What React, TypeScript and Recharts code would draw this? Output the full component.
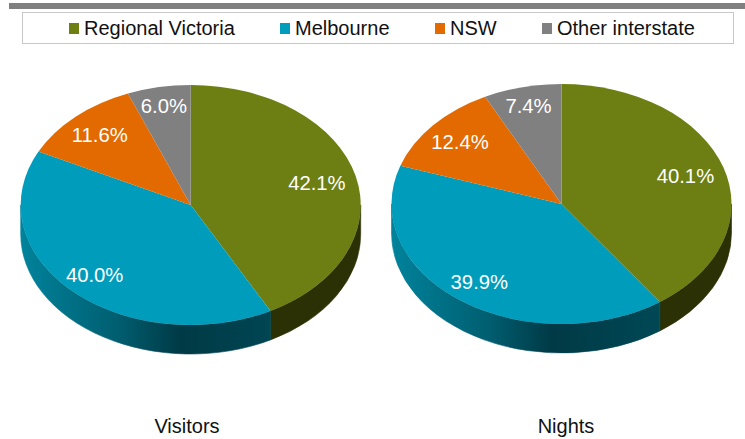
import { PieChart, Pie, Cell } from 'recharts';

const categories = ['Regional Victoria', 'Melbourne', 'NSW', 'Other interstate'];
const visitorShares = [42.1, 40.0, 11.6, 6.0];
const nightShares = [40.1, 39.9, 12.4, 7.4];
const colors = ['#6d7f12', '#009cbb', '#e26a00', '#808080'];
const wallColors = ['#2c3105', 'url(#WALL)', '#5a2a00', '#333333'];

const FONT = '"Liberation Sans", Arial, sans-serif';
const SQUASH = 120 / 170;
const DEPTH = 29;
const RAD = Math.PI / 180;
// how far out along the slice each percentage sits
const labelReach = [0.765, 0.81, 0.79, 0.84];

const toTable = (shares: number[]) => categories.map((name, i) => ({ name, value: shares[i] }));

const point = (cx: number, cy: number, r: number, deg: number) => ({
  x: cx + r * Math.cos(deg * RAD),
  y: cy - r * SQUASH * Math.sin(deg * RAD),
});

// flat pie is drawn as a tilted one: same angles, squashed radius, plus a side wall
const TiltedSlice = (props: any) => {
  const { cx, cy, outerRadius: r, startAngle, endAngle, fill, index, wallId } = props;
  const ry = r * SQUASH;
  const a = point(cx, cy, r, startAngle);
  const b = point(cx, cy, r, endAngle);
  const large = Math.abs(startAngle - endAngle) > 180 ? 1 : 0;
  const top = `M${cx},${cy} L${a.x},${a.y} A${r},${ry} 0 ${large} 1 ${b.x},${b.y} Z`;

  const from = Math.min(startAngle, 0);
  const to = Math.max(endAngle, -180);
  let wall = null;
  if (from > to) {
    const p = point(cx, cy, r, from);
    const q = point(cx, cy, r, to);
    const d = `M${p.x},${p.y} A${r},${ry} 0 0 1 ${q.x},${q.y} L${q.x},${q.y + DEPTH} A${r},${ry} 0 0 0 ${p.x},${p.y + DEPTH} Z`;
    const wallFill = wallColors[index].replace('WALL', wallId);
    // thin stroke closes the hairline between neighbouring walls
    wall = <path d={d} fill={wallFill} stroke={wallFill} strokeWidth={0.6} />;
  }
  return (
    <g>
      {wall}
      <path d={top} fill={fill} />
    </g>
  );
};

const SliceLabel = (props: any) => {
  const { cx, cy, outerRadius, midAngle, value, index } = props;
  const p = point(cx, cy, outerRadius * labelReach[index], midAngle);
  return (
    <text x={p.x} y={p.y} fill="#ffffff" fontSize={20.3} fontFamily={FONT} textAnchor="middle" dominantBaseline="central">
      {value.toFixed(1)}%
    </text>
  );
};

const WallGradient = ({ id, x1, x2 }: { id: string; x1: number; x2: number }) => (
  <linearGradient id={id} gradientUnits="userSpaceOnUse" x1={x1} y1="0" x2={x2} y2="0">
    <stop offset="0%" stopColor="#00839c" />
    <stop offset="28%" stopColor="#005f71" />
    <stop offset="47%" stopColor="#003a46" />
    <stop offset="100%" stopColor="#00515f" />
  </linearGradient>
);

const title: React.CSSProperties = {
  position: 'absolute',
  top: 414,
  width: 120,
  textAlign: 'center',
  fontFamily: FONT,
  fontSize: 20,
  lineHeight: '24px',
  color: '#111',
};

const legendX = [69, 280, 435, 542];

export default function App() {
  return (
    <div style={{ position: 'absolute', left: 0, top: 0, width: 745, height: 439, background: '#fff' }}>
      <div style={{ position: 'absolute', left: 9, top: 3, width: 736, height: 6, background: '#808080' }} />
      <div
        style={{
          position: 'absolute',
          left: 22,
          top: 12,
          width: 712,
          height: 32,
          boxSizing: 'border-box',
          border: '1px solid #c8c8c8',
        }}
      />
      {categories.map((name, i) => (
        <div
          key={name}
          style={{
            position: 'absolute',
            left: legendX[i],
            top: 16,
            height: 24,
            display: 'flex',
            alignItems: 'center',
            fontFamily: FONT,
            fontSize: 20,
            color: '#111',
            whiteSpace: 'nowrap',
          }}
        >
          <span style={{ display: 'inline-block', width: 10, height: 11, background: colors[i], marginRight: 5 }} />
          {name}
        </div>
      ))}
      <div style={{ position: 'absolute', left: 0, top: 0 }}>
        <PieChart width={745} height={439} margin={{ top: 0, right: 0, bottom: 0, left: 0 }}>
          <defs>
            <WallGradient id="wallVisitors" x1={20.7} x2={360.7} />
            <WallGradient id="wallNights" x1={391.5} x2={731.5} />
          </defs>
          <Pie
            data={toTable(visitorShares)}
            dataKey="value"
            nameKey="name"
            cx={190.7}
            cy={205}
            outerRadius={170}
            startAngle={90}
            endAngle={-270}
            stroke="none"
            isAnimationActive={false}
            labelLine={false}
            label={SliceLabel}
            shape={(p: any) => <TiltedSlice {...p} wallId="wallVisitors" />}
          >
            {categories.map((name, i) => (
              <Cell key={name} fill={colors[i]} />
            ))}
          </Pie>
          <Pie
            data={toTable(nightShares)}
            dataKey="value"
            nameKey="name"
            cx={561.5}
            cy={204}
            outerRadius={170}
            startAngle={90}
            endAngle={-270}
            stroke="none"
            isAnimationActive={false}
            labelLine={false}
            label={SliceLabel}
            shape={(p: any) => <TiltedSlice {...p} wallId="wallNights" />}
          >
            {categories.map((name, i) => (
              <Cell key={name} fill={colors[i]} />
            ))}
          </Pie>
        </PieChart>
      </div>
      <div style={{ ...title, left: 127 }}>Visitors</div>
      <div style={{ ...title, left: 506 }}>Nights</div>
    </div>
  );
}
